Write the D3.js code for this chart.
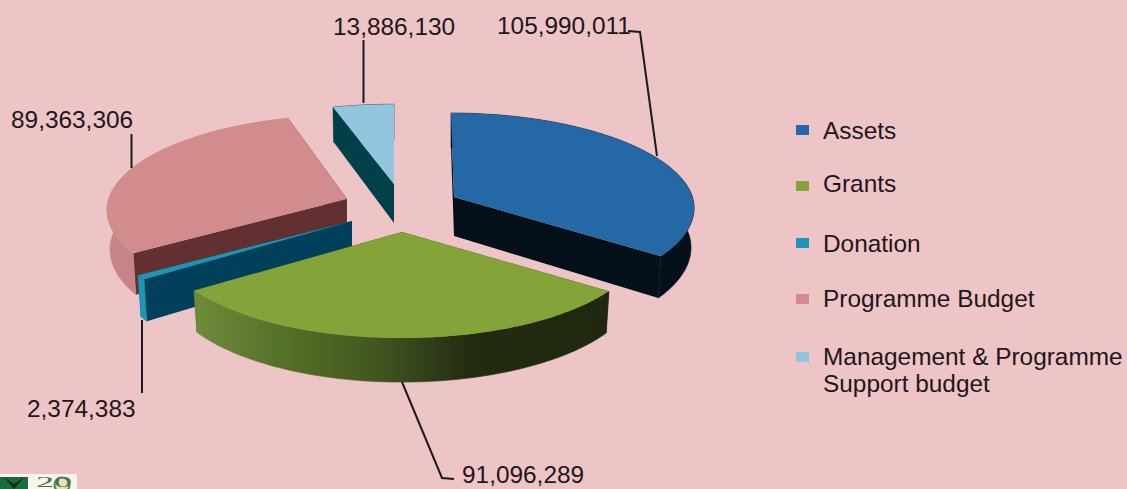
<!DOCTYPE html>
<html>
<head>
<meta charset="utf-8">
<script src="https://cdn.jsdelivr.net/npm/d3@7"></script>
<style>
html,body{margin:0;padding:0;background:#eec5c6;overflow:hidden}
svg{display:block}
text{font-family:"Liberation Sans",Arial,sans-serif;fill:#21161a}
</style>
</head>
<body>
<svg id="chart" width="1127" height="489"></svg>
<script>
// Budget breakdown
const categories = ["Assets", "Grants", "Donation", "Programme Budget", "Management & Programme Support budget"];
const values = [105990011, 91096289, 2374383, 89363306, 13886130];

// Slice colours: top face, cut faces, outer rim
const topColors = ["#2568a6", "#84a43a", "#1e95b2", "#d28c8e", "#92c6de"];
const faceColors = ["#04111b", "#2a3413", "#00405a", "#633031", "#004048"];
const rimColors = ["#04111b", "url(#grantsRim)", "#1e95b2", "#c78487", "#004048"];

// Screen position of each slice's apex once pulled out of the pie
const apexX = [454, 402, 352, 347, 394];
const apexY = [197, 232, 221, 199, 184];
// Slices pulled towards the far side look flatter
const flatten = [1, 1, 1, 1, 0.95];
const paintOrder = [4, 3, 0, 2, 1];

// Data label layout
const labelX = [497, 462, 27, 11, 333];
const labelY = [34, 483, 417, 128, 35];
const leaderPaths = [
  [[628, 31], [640, 32], [657, 156]],
  [[402, 382], [442, 478], [454, 479]],
  [[142, 320], [142, 393]],
  [[131.5, 134], [131.5, 168]],
  [[363.5, 40], [363.5, 103]]
];

// Legend layout
const legendY = [125, 181, 238, 294, 352];
const legendBaseline = [139, 192, 252, 307, 365];

// Perspective of the tilted disc
const radiusX = 238.5, radiusY = 93.7, recede = 0.116, depth = 39, bottomShrink = 0.987, lean = 0.05, leanOriginX = 394;

const svg = d3.select("#chart");
const defs = svg.append("defs");
const grad = defs.append("linearGradient").attr("id", "grantsRim");
[[0, "#6f8c3c"], [0.2, "#557229"], [0.42, "#45591f"], [0.56, "#31401a"], [0.66, "#232c11"], [1, "#1f2710"]]
  .forEach(([o, c]) => grad.append("stop").attr("offset", o).attr("stop-color", c));

const arcs = d3.pie().sort(null).startAngle(0).endAngle(2 * Math.PI)(values);
const fmt = d3.format(",");

// Project an angle on the disc (0 = far side, clockwise) to the screen, relative to a slice apex
function project(i, angle, r, bottom) {
  const u = r * Math.sin(angle), v = -r * Math.cos(angle);
  const w = 1 - recede * v;
  const shrink = bottom ? bottomShrink : 1;
  const x = apexX[i] + radiusX * u * shrink / w + (apexX[i] - leanOriginX) * lean * Math.min(v, 0);
  const y = apexY[i] + flatten[i] * radiusY * v / w + (bottom ? depth / w : 0);
  return [x, y];
}

const line = d3.line();
const g = svg.append("g");

paintOrder.forEach(i => {
  const a = arcs[i];
  const steps = Math.max(4, Math.ceil((a.endAngle - a.startAngle) * 60));
  const angles = d3.range(steps + 1).map(k => a.startAngle + (a.endAngle - a.startAngle) * k / steps);
  const topArc = angles.map(t => project(i, t, 1, false));
  const bottomArc = angles.map(t => project(i, t, 1, true));
  const apexTop = project(i, 0, 0, false), apexBottom = project(i, 0, 0, true);

  // Cut faces running from the apex to the rim
  [0, angles.length - 1].forEach(e => {
    g.append("path")
      .attr("d", line([apexTop, apexBottom, bottomArc[e], topArc[e]]) + "Z")
      .attr("fill", faceColors[i]);
  });
  // Outer rim
  g.append("path")
    .attr("d", line(topArc.concat(bottomArc.slice().reverse())) + "Z")
    .attr("fill", rimColors[i])
    .attr("stroke", rimColors[i])
    .attr("stroke-width", 0.6);
  // Top face
  g.append("path")
    .attr("d", line([apexTop].concat(topArc)) + "Z")
    .attr("fill", topColors[i]);
});

// Leader lines
svg.append("g").selectAll("path").data(leaderPaths).join("path")
  .attr("d", d => line(d))
  .attr("fill", "none")
  .attr("stroke", "#1c1a1c")
  .attr("stroke-width", 2);

// Value labels
svg.append("g").selectAll("text").data(values).join("text")
  .attr("x", (d, i) => labelX[i])
  .attr("y", (d, i) => labelY[i])
  .attr("font-size", 24.4)
  .text(d => fmt(d));

// Legend
const legend = svg.append("g");
categories.forEach((c, i) => {
  legend.append("rect")
    .attr("x", 796).attr("y", legendY[i]).attr("width", 13).attr("height", 10)
    .attr("fill", topColors[i]);
  const words = i === 4 ? ["Management & Programme", "Support budget"] : [c];
  words.forEach((w, k) => {
    legend.append("text")
      .attr("x", 823).attr("y", legendBaseline[i] + k * 27)
      .attr("font-size", 24.4).text(w);
  });
});

// Anniversary badge in the lower corner
const badge = svg.append("g");
badge.append("rect").attr("x", 0).attr("y", 474).attr("width", 77).attr("height", 15).attr("fill", "#f6f4ec");
badge.append("rect").attr("x", 0).attr("y", 477).attr("width", 28).attr("height", 12).attr("fill", "#1d6a3c");
badge.append("path").attr("d", line([[4, 477], [14, 484], [24, 477], [14, 489]]) + "Z").attr("fill", "#0d2c18");
badge.append("circle").attr("cx", 62).attr("cy", 485).attr("r", 7.5)
  .attr("fill", "#e6e2b8").attr("stroke", "#5c7a52").attr("stroke-width", 2);
badge.append("text").attr("x", 36).attr("y", 487).attr("font-size", 14)
  .attr("textLength", 36).attr("lengthAdjust", "spacingAndGlyphs")
  .style("font-family", "'Liberation Serif',serif").style("fill", "#4f6e48").text("20");
</script>
</body>
</html>
